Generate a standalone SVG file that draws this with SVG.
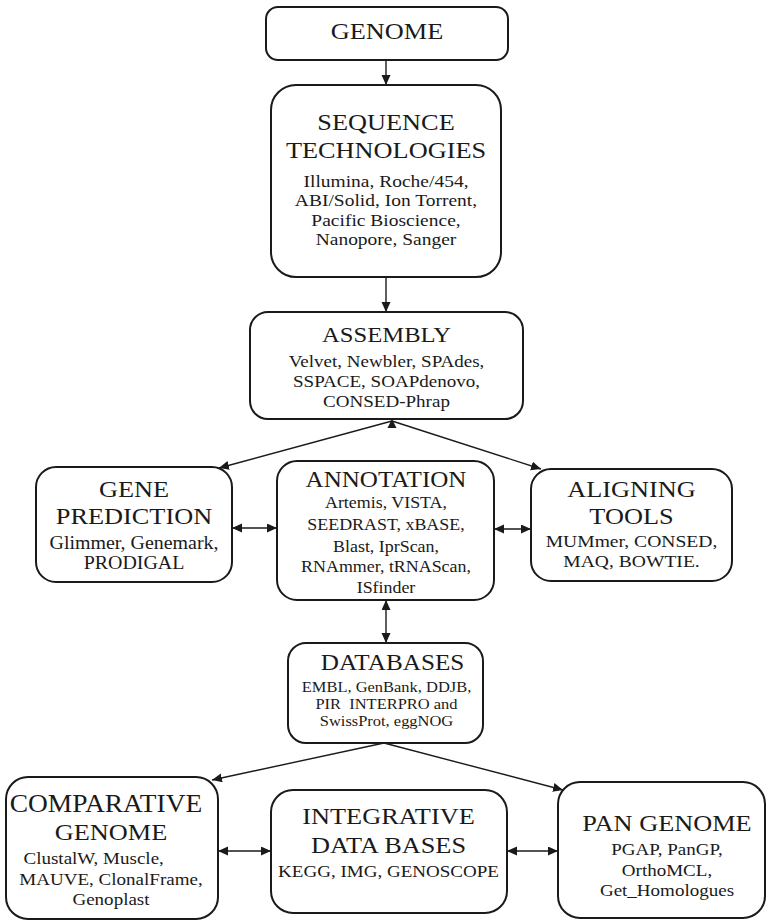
<svg xmlns="http://www.w3.org/2000/svg" width="767" height="921" viewBox="0 0 767 921">
<style>
  .box{fill:#fff;stroke:#1a1a1a;stroke-width:2}
  .t{font-family:"Liberation Serif","Times New Roman",serif;fill:#1a1a1a;text-anchor:middle}
  .h{font-size:23.5px}
  .s{font-size:17px}
  .ln{stroke:#1a1a1a;stroke-width:1.4;fill:none}
</style>
<defs>
  <marker id="ah" markerUnits="userSpaceOnUse" markerWidth="11" markerHeight="10" refX="10" refY="4.5" orient="auto-start-reverse">
    <path d="M0,0 L10,4.5 L0,9 z" fill="#1a1a1a"/>
  </marker>
</defs>
<g id="connectors">
  <line class="ln" x1="386" y1="60" x2="386" y2="85" marker-end="url(#ah)"/>
  <line class="ln" x1="386" y1="277" x2="386" y2="312" marker-end="url(#ah)"/>
  <line class="ln" x1="392" y1="421" x2="219" y2="468" marker-end="url(#ah)"/>
  <line class="ln" x1="392" y1="421" x2="541" y2="469" marker-end="url(#ah)"/>
  <polygon points="392,419 387.5,428 396.5,428" fill="#1a1a1a"/>
  <line class="ln" x1="232" y1="528" x2="277" y2="528" marker-start="url(#ah)" marker-end="url(#ah)"/>
  <line class="ln" x1="494" y1="529" x2="531" y2="529" marker-start="url(#ah)" marker-end="url(#ah)"/>
  <line class="ln" x1="386" y1="600" x2="386" y2="643" marker-start="url(#ah)" marker-end="url(#ah)"/>
  <line class="ln" x1="384" y1="743" x2="212" y2="780" marker-end="url(#ah)"/>
  <line class="ln" x1="384" y1="743" x2="563" y2="790" marker-end="url(#ah)"/>
  <line class="ln" x1="218" y1="851" x2="271" y2="851" marker-start="url(#ah)" marker-end="url(#ah)"/>
  <line class="ln" x1="507" y1="851" x2="558" y2="851" marker-start="url(#ah)" marker-end="url(#ah)"/>
</g>
<g id="genome">
  <rect class="box" x="266" y="7" width="242" height="53" rx="12"/>
  <g transform="translate(387 0) scale(1.12 1)">
    <text class="t h" x="0" y="39.5">GENOME</text>
  </g>
</g>
<g id="sequence">
  <rect class="box" x="271" y="85" width="230" height="192" rx="25"/>
  <g transform="translate(386 0) scale(1.12 1)">
    <text class="t h" x="0" y="130">SEQUENCE</text>
    <text class="t h" x="0" y="158">TECHNOLOGIES</text>
    <text class="t s" x="0" y="187" style="font-size:17.4px">Illumina, Roche/454,</text>
    <text class="t s" x="0" y="206.5" style="font-size:17.4px">ABI/Solid, Ion Torrent,</text>
    <text class="t s" x="0" y="226" style="font-size:17.4px">Pacific Bioscience,</text>
    <text class="t s" x="0" y="245" style="font-size:17.4px">Nanopore, Sanger</text>
  </g>
</g>
<g id="assembly">
  <rect class="box" x="250" y="312" width="273" height="107" rx="18"/>
  <g transform="translate(386.5 0) scale(1.12 1)">
    <text class="t h" x="0" y="342" style="font-size:22px">ASSEMBLY</text>
    <text class="t s" x="0" y="367">Velvet, Newbler, SPAdes,</text>
    <text class="t s" x="0" y="387">SSPACE, SOAPdenovo,</text>
    <text class="t s" x="0" y="407">CONSED-Phrap</text>
  </g>
</g>
<g id="gene-prediction">
  <rect class="box" x="36" y="467" width="196" height="115" rx="20"/>
  <g transform="translate(134 0) scale(1.12 1)">
    <text class="t h" x="0" y="497">GENE</text>
    <text class="t h" x="0" y="524">PREDICTION</text>
    <text class="t s" x="0" y="549" style="font-size:17.8px">Glimmer, Genemark,</text>
    <text class="t s" x="0" y="569" style="font-size:17.8px">PRODIGAL</text>
  </g>
</g>
<g id="annotation">
  <rect class="box" x="277" y="461" width="217" height="139" rx="20"/>
  <g transform="translate(386 0) scale(1.12 1)">
    <text class="t h" x="0" y="487" style="font-size:22.4px">ANNOTATION</text>
    <text class="t s" x="0" y="508" style="font-size:16px">Artemis, VISTA,</text>
    <text class="t s" x="0" y="530" style="font-size:16px">SEEDRAST, xBASE,</text>
    <text class="t s" x="0" y="552" style="font-size:16px">Blast, IprScan,</text>
    <text class="t s" x="0" y="572" style="font-size:16px">RNAmmer, tRNAScan,</text>
    <text class="t s" x="0" y="593" style="font-size:16px">ISfinder</text>
  </g>
</g>
<g id="aligning-tools">
  <rect class="box" x="531" y="469" width="201" height="112" rx="20"/>
  <g transform="translate(631.5 0) scale(1.12 1)">
    <text class="t h" x="0" y="497">ALIGNING</text>
    <text class="t h" x="0" y="524">TOOLS</text>
    <text class="t s" x="0" y="547" style="font-size:17.5px">MUMmer, CONSED,</text>
    <text class="t s" x="0" y="567" style="font-size:17.5px">MAQ, BOWTIE.</text>
  </g>
</g>
<g id="databases">
  <rect class="box" x="288" y="643" width="195" height="100" rx="18"/>
  <g transform="translate(386.5 0) scale(1.12 1)">
    <text class="t h" x="5.4" y="670" style="font-size:22.5px">DATABASES</text>
    <text class="t s" x="0" y="692" style="font-size:14.7px">EMBL, GenBank, DDJB,</text>
    <text class="t s" x="0" y="709" style="font-size:14.7px;white-space:pre" xml:space="preserve">PIR  INTERPRO and</text>
    <text class="t s" x="0" y="726.5" style="font-size:14.7px">SwissProt, eggNOG</text>
  </g>
</g>
<g id="comparative-genome">
  <rect class="box" x="6" y="777" width="212" height="142" rx="22"/>
  <g transform="translate(111 0) scale(1.12 1)">
    <text class="t h" x="-4.5" y="812.5" style="font-size:24.5px">COMPARATIVE</text>
    <text class="t h" x="0" y="840.5">GENOME</text>
    <text class="t s" x="-15.5" y="864">ClustalW, Muscle,</text>
    <text class="t s" x="0" y="885">MAUVE, ClonalFrame,</text>
    <text class="t s" x="0" y="905">Genoplast</text>
  </g>
</g>
<g id="integrative-data-bases">
  <rect class="box" x="271" y="790" width="236" height="123" rx="22"/>
  <g transform="translate(388.5 0) scale(1.12 1)">
    <text class="t h" x="0" y="824">INTEGRATIVE</text>
    <text class="t h" x="0" y="853">DATA BASES</text>
    <text class="t s" x="0" y="877">KEGG, IMG, GENOSCOPE</text>
  </g>
</g>
<g id="pan-genome">
  <rect class="box" x="558" y="782" width="207" height="136" rx="22"/>
  <g transform="translate(667 0) scale(1.12 1)">
    <text class="t h" x="0" y="831">PAN GENOME</text>
    <text class="t s" x="0" y="855">PGAP, PanGP,</text>
    <text class="t s" x="0" y="876">OrthoMCL,</text>
    <text class="t s" x="0" y="896.5">Get_Homologues</text>
  </g>
</g>
</svg>
